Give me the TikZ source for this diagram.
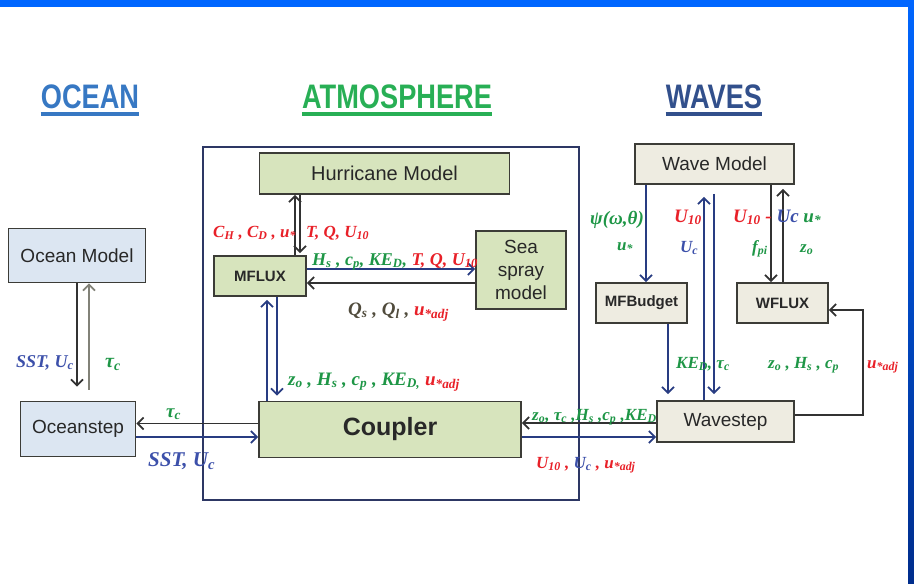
\documentclass[tikz,border=0pt]{standalone}
\usepackage{fontspec}
\setsansfont{Liberation Sans}
\newfontfamily\lblfont{Liberation Serif}
\newfontfamily\headfont{Liberation Sans}[FakeStretch=0.8]
\usetikzlibrary{arrows.meta,calc}
\definecolor{atmfill}{RGB}{215,228,189}
\definecolor{ocnfill}{RGB}{220,230,242}
\definecolor{wavfill}{RGB}{238,236,225}
\definecolor{boxline}{RGB}{60,60,55}
\definecolor{boxtext}{RGB}{40,40,40}
\definecolor{navyline}{RGB}{40,60,130}
\definecolor{darkline}{RGB}{50,50,50}
\definecolor{grayline}{RGB}{130,130,120}
\definecolor{atmframe}{RGB}{45,55,100}
\definecolor{lblred}{RGB}{232,32,40}
\definecolor{lblgreen}{RGB}{30,150,70}
\definecolor{lblblue}{RGB}{60,80,170}
\definecolor{lblbrown}{RGB}{80,75,60}
\definecolor{ocnhead}{RGB}{55,120,195}
\definecolor{atmhead}{RGB}{40,175,85}
\definecolor{wavhead}{RGB}{50,80,140}
\definecolor{barlight}{RGB}{0,102,255}
\definecolor{bardark}{RGB}{0,45,140}
\newcommand{\sbs}[1]{\textsubscript{#1}}
\tikzset{
  blk/.style={draw=boxline, rectangle, line width=1.8pt, align=center, inner sep=0pt, text=boxtext, font=\sffamily\fontsize{19}{22}\selectfont},
  atmblk/.style={blk, fill=atmfill},
  ocnblk/.style={blk, fill=ocnfill},
  wavblk/.style={blk, fill=wavfill},
  arr/.style={-{Straight Barb[length=6pt, width=12pt]}, line width=1.7pt},
  lbl/.style={anchor=base west, inner sep=0pt, font=\lblfont\bfseries\itshape\fontsize{17}{20}\selectfont},
  head/.style={anchor=base, inner sep=0pt, font=\headfont\bfseries\fontsize{34}{40}\selectfont},
}

\begin{document}
\begin{tikzpicture}[x=1pt, y=-1pt]
\useasboundingbox (0,0) rectangle (914,584);

% frame bars
\fill[top color=barlight, bottom color=bardark] (908,0) rectangle (914,584);
\fill[barlight] (0,0) rectangle (914,7);

% headings
\node[head, text=ocnhead] (hocean) at (90,108) {OCEAN};
\node[head, text=atmhead] (hatm) at (397,108) {ATMOSPHERE};
\node[head, text=wavhead] (hwave) at (714,108) {WAVES};
\draw[ocnhead, line width=4pt] ([yshift=-6pt]hocean.base west) -- ([yshift=-6pt]hocean.base east);
\draw[atmhead, line width=4pt] ([yshift=-6pt]hatm.base west) -- ([yshift=-6pt]hatm.base east);
\draw[wavhead, line width=4pt] ([yshift=-6pt]hwave.base west) -- ([yshift=-6pt]hwave.base east);

% atmosphere frame
\node[draw=atmframe, line width=1.6pt, minimum width=376pt, minimum height=353pt] (atmbox) at (391,323.5) {};

% blocks
\node[atmblk, minimum width=250pt, minimum height=41pt, font=\sffamily\fontsize{20}{23}\selectfont] (hurr) at (384.5,173.5) {Hurricane Model};
\node[atmblk, minimum width=92pt, minimum height=40pt, font=\sffamily\bfseries\fontsize{15}{18}\selectfont] (mflux) at (260,276) {MFLUX};
\node[atmblk, minimum width=90pt, minimum height=78pt, font=\sffamily\fontsize{19}{23}\selectfont] (spray) at (521,270) {Sea\\spray\\model};
\node[atmblk, minimum width=262pt, minimum height=56pt, font=\sffamily\bfseries\fontsize{25}{28}\selectfont] (coupler) at (390,429.5) {Coupler};
\node[ocnblk, minimum width=137pt, minimum height=54pt] (ocnmodel) at (77,255.5) {Ocean Model};
\node[ocnblk, minimum width=115pt, minimum height=55pt] (ocnstep) at (78,429) {Oceanstep};
\node[wavblk, minimum width=159pt, minimum height=40pt] (wavmodel) at (714.5,164) {Wave Model};
\node[wavblk, minimum width=91pt, minimum height=40pt, font=\sffamily\bfseries\fontsize{15}{18}\selectfont] (mfbudget) at (641.5,303) {MFBudget};
\node[wavblk, minimum width=91pt, minimum height=40pt, font=\sffamily\bfseries\fontsize{15}{18}\selectfont] (wflux) at (782.5,303) {WFLUX};
\node[wavblk, minimum width=137pt, minimum height=41pt] (wavestep) at (725.5,421.5) {Wavestep};

% atmosphere connectors
\draw[arr, darkline] ($(mflux.north)+(35,0)$) -- ($(hurr.south)+(-89.5,0)$);
\draw[arr, darkline, shorten >=2pt] ($(hurr.south)+(-84.5,0)$) -- ($(mflux.north)+(40,0)$);
\draw[arr, navyline] ($(mflux.east)+(0,-7)$) -- ($(spray.west)+(0,-1)$);
\draw[arr, darkline] ($(spray.west)+(0,13)$) -- ($(mflux.east)+(0,7)$);
\draw[arr, navyline, shorten >=3pt] ($(coupler.north)+(-123,0)$) -- ($(mflux.south)+(7,0)$);
\draw[arr, navyline, shorten >=5pt] ($(mflux.south)+(17,0)$) -- ($(coupler.north)+(-113,0)$);

% ocean connectors
\draw[arr, darkline, shorten >=14pt] ($(ocnmodel.south)+(0,0)$) -- ($(ocnstep.north)+(-1,0)$);
\draw[arr, grayline, shorten <=11pt] ($(ocnstep.north)+(11,0)$) -- ($(ocnmodel.south)+(12,0)$);
\draw[arr, darkline] ($(coupler.west)+(0,-6)$) -- ($(ocnstep.east)+(0,-5.5)$);
\draw[arr, navyline] ($(ocnstep.east)+(0,8)$) -- ($(coupler.west)+(0,7.5)$);

% wave connectors
\draw[arr, darkline] ($(wavestep.west)+(0,1.5)$) -- ($(coupler.east)+(0,-6.5)$);
\draw[arr, navyline] ($(coupler.east)+(0,7.5)$) -- ($(wavestep.west)+(0,15.5)$);
\draw[arr, navyline] ($(wavmodel.south)+(-68.5,0)$) -- ($(mfbudget.north)+(4.5,0)$);
\draw[arr, navyline, shorten >=12pt] ($(wavestep.north)+(-21.5,0)$) -- ($(wavmodel.south)+(-10.5,0)$);
\draw[arr, navyline, shorten <=9pt, shorten >=6pt] ($(wavmodel.south)+(-0.5,0)$) -- ($(wavestep.north)+(-11.5,0)$);
\draw[arr, navyline, shorten >=6pt] ($(mfbudget.south)+(26.5,0)$) -- ($(wavestep.north)+(-57.5,0)$);
\draw[arr, darkline] ($(wavmodel.south)+(56.5,0)$) -- ($(wflux.north)+(-11.5,0)$);
\draw[arr, darkline, shorten >=4pt] ($(wflux.north)+(0.5,0)$) -- ($(wavmodel.south)+(68.5,0)$);
\draw[arr, darkline] ($(wavestep.east)+(0,-6.5)$) -- ++(68,0) |- ($(wflux.east)+(0,7)$);

% labels atmosphere
\node[lbl, text=lblred] (lchcd) at (213,237) {C\sbs{H} , C\sbs{D} , u\sbs{*}};
\node[lbl, text=lblred] (ltq) at (306,237) {T, Q, U\sbs{10}};
\node[lbl, text=lblgreen, font=\lblfont\bfseries\itshape\fontsize{18}{20}\selectfont] (lhs) at (312,265) {H\sbs{s} , c\sbs{p}, KE\sbs{D}, \textcolor{lblred}{T, Q, U\sbs{10}}};
\node[lbl, text=lblred, font=\lblfont\bfseries\itshape\fontsize{19}{22}\selectfont] (lqs) at (348,315) {\textcolor{lblbrown}{Q\sbs{s} , Q\sbs{l} ,} u\sbs{*adj}};
\node[lbl, text=lblgreen, font=\lblfont\bfseries\itshape\fontsize{19}{22}\selectfont] (lzo) at (288,385) {z\sbs{o} , H\sbs{s} , c\sbs{p} , KE\sbs{D,} \textcolor{lblred}{u\sbs{*adj}}};

% labels ocean
\node[lbl, text=lblblue, font=\lblfont\bfseries\itshape\fontsize{18}{20}\selectfont] (lsst) at (16,367) {SST, U\sbs{c}};
\node[lbl, text=lblgreen, font=\lblfont\bfseries\itshape\fontsize{20}{22}\selectfont] (ltau) at (105,367) {τ\sbs{c}};
\node[lbl, text=lblgreen, font=\lblfont\bfseries\itshape\fontsize{19}{22}\selectfont] (ltauc) at (166,417) {τ\sbs{c}};
\node[lbl, text=lblblue, font=\lblfont\bfseries\itshape\fontsize{21}{24}\selectfont] (lsstc) at (148,466) {SST, U\sbs{c}};

% labels waves
\node[lbl, text=lblgreen] (lzot) at (532,420) {z\sbs{o}, τ\sbs{c} ,H\sbs{s} ,c\sbs{p} ,KE\sbs{D}};
\node[lbl, text=lblred] (lu10) at (536,468) {U\sbs{10} , \textcolor{lblblue}{U\sbs{c}} , u\sbs{*adj}};
\node[lbl, text=lblgreen] (lked) at (676,368) {KE\sbs{D}, τ\sbs{c}};
\node[lbl, text=lblgreen] (lzhc) at (768,368) {z\sbs{o} , H\sbs{s} , c\sbs{p}};
\node[lbl, text=lblred] (luadj) at (867,368) {u\sbs{*adj}};
\node[lbl, text=lblgreen, font=\lblfont\bfseries\itshape\fontsize{19}{22}\selectfont] (lpsi) at (590,224) {ψ(ω,θ)};
\node[lbl, text=lblgreen] (lust) at (617,250) {u\sbs{*}};
\node[lbl, text=lblred, font=\lblfont\bfseries\itshape\fontsize{19}{22}\selectfont] (lwu) at (674,222) {U\sbs{10}};
\node[lbl, text=lblblue] (lwuc) at (680,252) {U\sbs{c}};
\node[lbl, text=lblred, font=\lblfont\bfseries\itshape\fontsize{19}{22}\selectfont] (lumuc) at (733,222) {U\sbs{10} - \textcolor{lblblue}{Uc} \textcolor{lblgreen}{u\sbs{*}}};
\node[lbl, text=lblgreen] (lfpi) at (752,252) {f\sbs{pi}};
\node[lbl, text=lblgreen] (lzw) at (800,252) {z\sbs{o}};

\end{tikzpicture}
\end{document}
